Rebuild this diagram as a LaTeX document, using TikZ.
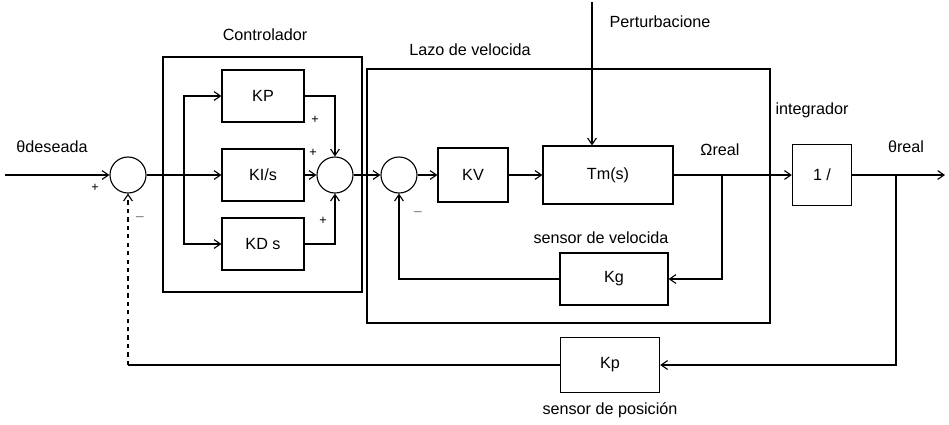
\documentclass[tikz,border=0pt]{standalone}
\usepackage{fontspec}
\setmainfont{Liberation Sans}
\usepackage{tikz}
\usetikzlibrary{arrows.meta, positioning, calc}

\tikzset{
  block/.style={draw, thick, minimum width=2.05cm, minimum height=1.3cm, inner sep=0pt},
  sumnode/.style={draw, thick, circle, minimum size=0.9cm, inner sep=0pt},
  frame/.style={draw, thick},
  lbl/.style={inner sep=0pt},
  sgn/.style={inner sep=0pt, font=\small},
  sig/.style={thick, -{Straight Barb[length=1.6mm, width=2.2mm]}},
  wire/.style={thick}
}

\begin{document}
\begin{tikzpicture}[x=0.025cm, y=-0.025cm, font=\fontsize{11.5}{13}\selectfont]
  \useasboundingbox (0,0) rectangle (949,424);

  % Frames
  \draw[frame] (163,57) rectangle (362,292);
  \draw[frame] (367,69) rectangle (770,323);

  % Summing junctions
  \node[sumnode] (sum1) at (128,175) {};
  \node[sumnode] (sum2) at (335,175) {};
  \node[sumnode] (sum3) at (399,175) {};

  % Controller blocks
  \node[block] (kp) at (263,96) {KP};
  \node[block] (ki) at (263,175) {KI/s};
  \node[block] (kd) at (263,244) {KD s};

  % Velocity loop
  \node[block, minimum width=1.75cm, minimum height=1.35cm] (kv) at (473,175) {KV};
  \node[block, minimum width=3.25cm, minimum height=1.45cm] (tm) at (608,175) {Tm(s)};
  \node[block, minimum width=2.7cm] (kg) at (614,279) {Kg};

  % Integrator and position sensor
  \node[block, minimum width=1.48cm, minimum height=1.53cm] (integ) at (822,175) {1 /};
  \node[block, minimum width=2.48cm, minimum height=1.38cm] (kpos) at (610,365) {Kp};

  % Free ends and branch points
  \coordinate (in) at (5,175);
  \coordinate (out) at (945,175);
  \coordinate (split) at (184,175);
  \coordinate (pert) at (592,2);
  \coordinate (omega) at (722,175);
  \coordinate (theta) at (896,175);

  % Labels
  \node[lbl] (ldes) at (52,147) {θdeseada};
  \node[sgn] (p1) at (95,188) {+};
  \node[sgn] (m1) at (140,217) {$-$};
  \node[lbl] (lctrl) at (265,35) {Controlador};
  \node[sgn] (p2) at (315,120) {+};
  \node[sgn] (p3) at (313,153) {+};
  \node[sgn] (p4) at (323,221) {+};
  \node[lbl] (llazo) at (470,50) {Lazo de velocida};
  \node[sgn] (m3) at (418,212) {$-$};
  \node[lbl] (lsvel) at (601,238) {sensor de velocida};
  \node[lbl] (lpert) at (660,22) {Perturbacione};
  \node[lbl] (lomega) at (720,150) {Ωreal};
  \node[lbl] (linteg) at (812,110) {integrador};
  \node[lbl] (ltheta) at (906,147) {θreal};
  \node[lbl] (lspos) at (610,410) {sensor de posición};

  % Forward path
  \draw[sig] (in) -- (sum1.west);
  \draw[wire] (sum1.east) -- (split);
  \draw[sig] (split) -- (ki.west);
  \draw[sig] (split) |- (kp.west);
  \draw[sig] (split) |- (kd.west);
  \draw[sig] (kp.east) -| (sum2.north);
  \draw[sig] (ki.east) -- (sum2.west);
  \draw[sig] (kd.east) -| (sum2.south);
  \draw[sig] (sum2.east) -- (sum3.west);
  \draw[sig] (sum3.east) -- (kv.west);
  \draw[sig] (kv.east) -- (tm.west);
  \draw[sig] (pert) -- (pert |- tm.north);
  \draw[sig] (tm.east) -- (integ.west);
  \draw[sig] (integ.east) -- (out);

  % Velocity feedback
  \draw[sig] (omega) |- (kg.east);
  \draw[sig] (kg.west) -| (sum3.south);

  % Position feedback
  \draw[sig] (theta) |- (kpos.east);
  \draw[wire] (kpos.west) -- (kpos.west -| sum1.south) coordinate (fbk);
  \draw[sig, dashed] (fbk) -- (sum1.south);
\end{tikzpicture}
\end{document}
